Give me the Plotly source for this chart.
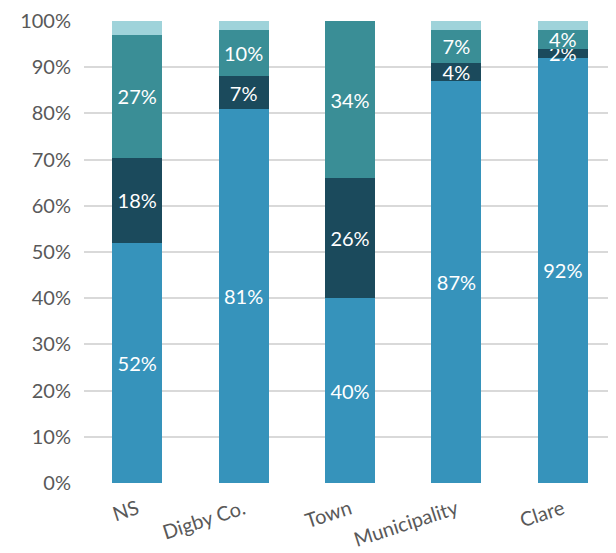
import plotly.graph_objects as go

categories = ["NS", "Digby Co.", "Town", "Municipality", "Clare"]
series1 = [52, 81, 40, 87, 92]
series2 = [18.4, 7, 26, 4, 2]
series3 = [26.6, 10, 34, 7, 4]
series4 = [3, 2, 0, 2, 2]
colors = ["#3693BB", "#1B4A5C", "#3A8E96", "#9FD3DA"]

FONT = "Lato"
fig = go.Figure()
for i, vals in enumerate([series1, series2, series3, series4]):
    show = i < 3
    fig.add_trace(go.Bar(
        x=categories, y=vals, marker_color=colors[i], marker_line_width=0,
        text=[f"{round(v)}%" for v in vals] if show else None,
        textposition="inside" if show else "none",
        insidetextanchor="middle",
        textfont=dict(color="white", size=20, family=FONT),
        width=0.47,
    ))

fig.update_layout(
    barmode="stack", width=608, height=545,
    margin=dict(l=76, r=0, t=13, b=70),
    plot_bgcolor="white", paper_bgcolor="white", showlegend=False,
    uniformtext=dict(minsize=20, mode="show"),
    font=dict(family=FONT, color="#595959", size=20),
)
fig.update_yaxes(range=[0, 100], dtick=10, ticksuffix="%", gridcolor="#D9D9D9",
                 gridwidth=1.5, zeroline=False, showline=False, automargin=False,
                 tickfont=dict(size=20, color="#595959"), ticklen=8, ticks="outside", tickcolor="white")
fig.update_xaxes(tickangle=-18, tickfont=dict(size=20, color="#595959"), showline=False,
                 automargin=False, ticks="outside", ticklen=6, tickcolor="white")
fig.write_html("out.html")
